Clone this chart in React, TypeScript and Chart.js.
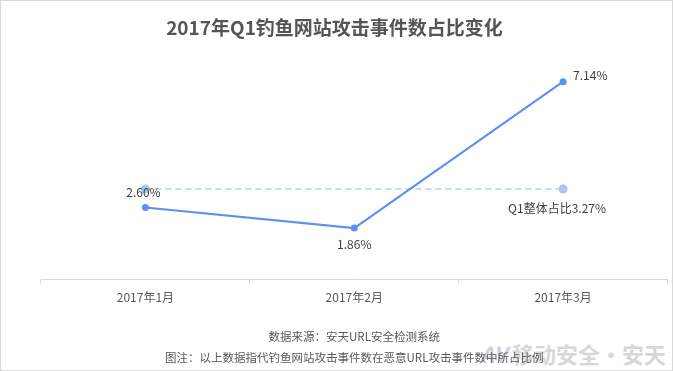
import React, { useEffect, useRef } from "react";
import { Chart, registerables } from "chart.js";

Chart.register(...registerables);

const categories = ["2017年1月", "2017年2月", "2017年3月"];
const monthlyShare = [2.6, 1.86, 7.14];
const q1Share = 3.27;
const q1Label = "Q1整体占比3.27%";
const titleText = "2017年Q1钓鱼网站攻击事件数占比变化";
const footLines = ["数据来源：安天URL安全检测系统", "图注：以上数据指代钓鱼网站攻击事件数在恶意URL攻击事件数中所占比例"];
const labelPlacement = ["top", "bottom", "right"];

const FONT = "'Noto Sans CJK SC', 'Microsoft YaHei', sans-serif";

const labelPlugin = {
  id: "valueLabels",
  afterDatasetsDraw(chart: any) {
    const ctx = chart.ctx;
    ctx.save();
    ctx.font = `12px ${FONT}`;
    ctx.fillStyle = "#404040";
    const m0 = chart.getDatasetMeta(0);
    m0.data.forEach((pt: any, i: number) => {
      const txt = monthlyShare[i].toFixed(2) + "%";
      const pl = labelPlacement[i];
      ctx.textBaseline = "middle";
      if (pl === "top") {
        ctx.textAlign = "center";
        ctx.fillText(txt, pt.x - 2, pt.y - 15);
      } else if (pl === "bottom") {
        ctx.textAlign = "center";
        ctx.fillText(txt, pt.x, pt.y + 16);
      } else {
        ctx.textAlign = "left";
        ctx.fillText(txt, pt.x + 10, pt.y - 6);
      }
    });
    const m1 = chart.getDatasetMeta(1);
    const last = m1.data[m1.data.length - 1];
    if (last) {
      ctx.textAlign = "center";
      ctx.textBaseline = "middle";
      ctx.fillText(q1Label, last.x - 6, last.y + 19);
    }
    ctx.restore();
  },
};

export default function App() {
  const ref = useRef<HTMLCanvasElement | null>(null);
  useEffect(() => {
    document.body.style.margin = "0";
    if (!ref.current) return;
    const chart = new Chart(ref.current, {
      type: "line",
      data: {
        labels: categories,
        datasets: [
          {
            data: monthlyShare,
            borderColor: "#5b8ff0",
            backgroundColor: "#5b8ff0",
            borderWidth: 2,
            pointRadius: 3.5,
            pointBackgroundColor: "#5b8ff0",
            pointBorderWidth: 0,
            tension: 0,
          },
          {
            data: [q1Share, null, q1Share],
            spanGaps: true,
            borderColor: "#b3cdf7",
            backgroundColor: "#a9c6f7",
            borderWidth: 1.5,
            borderDash: [6, 4],
            pointRadius: 4.5,
            pointBackgroundColor: "#a9c6f7",
            pointBorderWidth: 0,
          },
        ],
      },
      options: {
        animation: false,
        responsive: true,
        maintainAspectRatio: false,
        layout: { padding: { left: 0, right: 4, top: 0, bottom: 2.5 } },
        plugins: {
          legend: { display: false },
          tooltip: { enabled: false },
          title: {
            display: true,
            text: titleText,
            color: "#555555",
            font: { family: FONT, size: 19, weight: "bold" },
            padding: { top: 15, bottom: 19 },
          },
          subtitle: {
            display: true,
            position: "bottom",
            fullSize: false,
            text: footLines,
            color: "#595959",
            font: { family: FONT, size: 11.5, lineHeight: 1.8 },
            padding: { top: 14, bottom: 0 },
          },
        },
        scales: {
          x: {
            offset: true,
            grid: {
              display: true,
              offset: true,
              drawOnChartArea: false,
              drawTicks: true,
              tickLength: 4,
              color: "#d9d9d9",
            },
            border: { display: true, color: "#d9d9d9" },
            ticks: {
              color: "#595959",
              font: { family: FONT, size: 12 },
              padding: 7,
            },
          },
          y: {
            display: true,
            min: 0,
            max: 8,
            ticks: { display: false },
            grid: { display: false },
            border: { display: false },
            afterFit: (s: any) => {
              s.width = 40;
            },
          },
        },
      },
      plugins: [labelPlugin],
    });
    return () => chart.destroy();
  }, []);
  return (
    <div
      style={{
        position: "relative",
        width: 673,
        height: 371,
        boxSizing: "border-box",
        border: "1px solid #d9d9d9",
        background: "#fff",
      }}
    >
      <div
        style={{
          position: "absolute",
          right: 6,
          bottom: 4,
          fontFamily: FONT,
          fontWeight: "bold",
          fontSize: 22,
          lineHeight: "26px",
          color: "rgba(205,205,205,0.8)",
          pointerEvents: "none",
          whiteSpace: "nowrap",
        }}
      >
        <span style={{ fontStyle: "italic", color: "rgba(185,195,210,0.75)" }}>AV</span> 移动安全·安天
      </div>
      <canvas ref={ref} style={{ position: "relative" }} />
    </div>
  );
}
